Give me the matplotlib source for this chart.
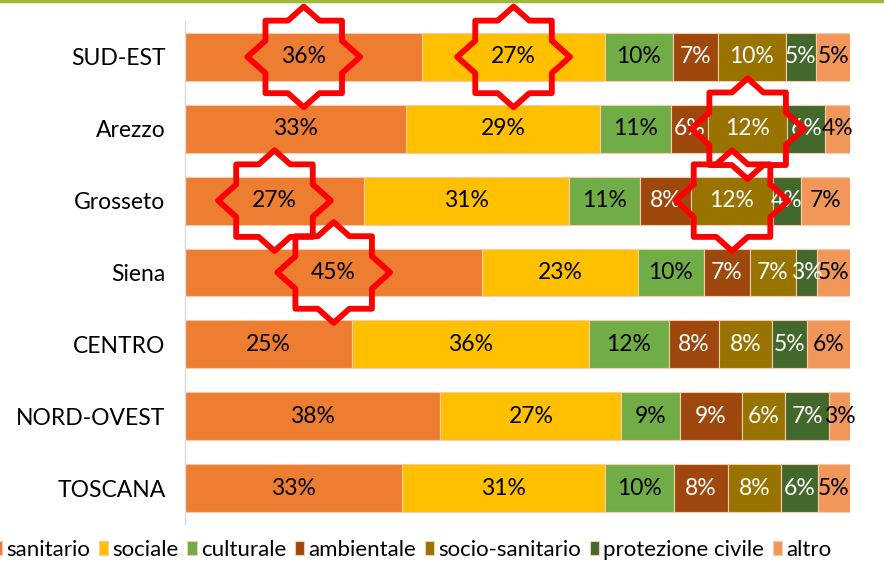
import matplotlib
matplotlib.use('Agg')
import matplotlib.pyplot as plt
from matplotlib.path import Path
from matplotlib.lines import Line2D
import numpy as np

plt.rcParams['font.family'] = ['Lato', 'DejaVu Sans']

regions = ['SUD-EST', 'Arezzo', 'Grosseto', 'Siena', 'CENTRO', 'NORD-OVEST', 'TOSCANA']
categories = ['sanitario', 'sociale', 'culturale', 'ambientale',
              'socio-sanitario', 'protezione civile', 'altro']

# percent shares per region
sanitario = [35.7, 33.2, 26.9, 44.7, 25.1, 38.4, 32.6]
sociale = [27.4, 29.2, 30.8, 23.4, 35.6, 27.2, 30.6]
culturale = [10.3, 10.7, 10.7, 9.9, 12.0, 8.8, 10.3]
ambientale = [6.8, 5.6, 7.7, 7.0, 7.6, 9.4, 8.1]
socio_sanitario = [10.1, 11.8, 12.3, 6.8, 8.0, 6.4, 8.0]
protezione_civile = [4.6, 5.8, 4.2, 3.3, 5.3, 6.7, 5.6]
altro = [5.1, 3.8, 7.4, 4.9, 6.4, 3.1, 4.8]

# highlighted segments (region, category)
stars = [('SUD-EST', 'sanitario'), ('SUD-EST', 'sociale'),
         ('Arezzo', 'socio-sanitario'), ('Grosseto', 'socio-sanitario'),
         ('Grosseto', 'sanitario'), ('Siena', 'sanitario')]

COLORS = ['#ED7D31', '#FFC000', '#70AD47', '#9E480E', '#997300', '#43682B', '#F1975A']
TEXT_COLORS = ['black', 'black', 'black', 'white', 'white', 'white', 'black']


def star_path(tx=56, ty=50, sx=38, sy=36):
    """Outline of two overlapping squares (eight pointed star)."""
    ix = tx * (1 - sy / ty)   # where diamond meets top edge
    iy = ty * (1 - sx / tx)   # where diamond meets side edge
    q = [(tx, 0), (sx, iy), (sx, sy), (ix, sy), (0, ty)]
    pts = q + [(-x, y) for x, y in q[::-1][1:]]
    pts = pts + [(x, -y) for x, y in pts[::-1][1:-1]]
    pts.append(pts[0])
    return Path(pts, closed=True)


series = [sanitario, sociale, culturale, ambientale, socio_sanitario, protezione_civile, altro]
data = np.array(series)

fig = plt.figure(figsize=(8.84, 5.7), dpi=100)
ax = fig.add_axes([0.2093, 0.0807, 0.7523, 0.8825])

ypos = np.arange(len(regions))
left = np.zeros(len(regions))
for i, name in enumerate(categories):
    vals = data[i]
    bars = ax.barh(ypos, vals, left=left, height=0.667, color=COLORS[i],
                   edgecolor='#F8CBAD', linewidth=0.8, label=name)
    ax.bar_label(bars, labels=['{:.0f}%'.format(v) for v in vals],
                 label_type='center', color=TEXT_COLORS[i], fontsize=16.5)
    left += vals

# red stars over the highlighted segments
cum = np.vstack([np.zeros(len(regions)), np.cumsum(data, axis=0)])
sx, sy = [], []
for reg, cat in stars:
    r = regions.index(reg)
    c = categories.index(cat)
    sx.append((cum[c, r] + cum[c + 1, r]) / 2)
    sy.append(r)
ax.scatter(sx, sy, marker=star_path(), s=6600, facecolors='none',
           edgecolors='#FF0000', linewidths=4.2, zorder=5, clip_on=False)

ax.set_xlim(0, 100)
ax.set_ylim(len(regions) - 0.5, -0.5)
ax.set_yticks(ypos)
ax.set_yticklabels(regions, fontsize=16.5)
ax.tick_params(axis='y', length=0, pad=14)
ax.set_xticks([])
for s in ['top', 'right', 'bottom']:
    ax.spines[s].set_visible(False)
ax.spines['left'].set_color('#D9D9D9')
ax.spines['left'].set_linewidth(1)

fig.legend(loc='center left', bbox_to_anchor=(-0.008, 0.035), ncol=7,
           frameon=False, fontsize=16, handlelength=0.42, handleheight=0.6,
           handletextpad=0.18, columnspacing=0.4, borderpad=0, borderaxespad=0)

# olive rule along the top edge
fig.add_artist(Line2D([0, 1], [0.998, 0.998], color='#A2B83A', linewidth=2.5,
                      transform=fig.transFigure))

fig.savefig('out.png', dpi=100)
